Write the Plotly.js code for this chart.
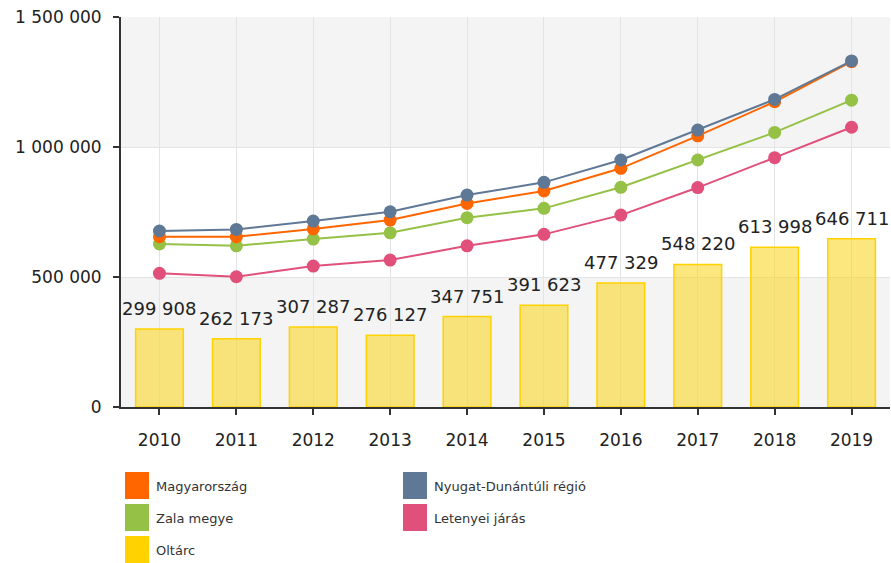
<!DOCTYPE html>
<html>
<head>
<meta charset="utf-8">
<script src="https://cdn.plot.ly/plotly-3.0.1.min.js"></script>
<style>html,body{margin:0;padding:0;background:#fff;}#chart{width:891px;height:563px;}</style>
</head>
<body>
<div id="chart"></div>
<script>
const years = [2010, 2011, 2012, 2013, 2014, 2015, 2016, 2017, 2018, 2019];
const oltarc = [299908, 262173, 307287, 276127, 347751, 391623, 477329, 548220, 613998, 646711];
const magyarorszag = [655000, 655000, 685000, 719000, 783000, 831000, 918000, 1043000, 1174000, 1328000];
const nyugatDunantuli = [677000, 683000, 715000, 751000, 815000, 864000, 950000, 1065000, 1183000, 1331000];
const zalaMegye = [627000, 620000, 646000, 670000, 728000, 764000, 845000, 950000, 1056000, 1180000];
const letenyeiJaras = [514000, 501000, 542000, 565000, 620000, 664000, 738000, 844000, 959000, 1076000];
const yTicks = [0, 500000, 1000000, 1500000];

const seriesNames = ["Magyarország", "Nyugat-Dunántúli régió", "Zala megye", "Letenyei járás", "Oltárc"];
const seriesColors = ["#ff6600", "#5f7896", "#95c146", "#e0507a", "#ffd200"];

const FONT = "DejaVu Sans, Verdana, sans-serif";
const fmt = v => String(v).replace(/\B(?=(\d{3})+(?!\d))/g, " ");

const lineSeries = [
  [letenyeiJaras, 3],
  [zalaMegye, 2],
  [magyarorszag, 0],
  [nyugatDunantuli, 1]
];

const traces = [{
  type: "bar",
  x: years,
  y: oltarc,
  width: 0.62,
  name: seriesNames[4],
  marker: {color: "rgba(250,214,40,0.6)", line: {color: seriesColors[4], width: 1.5}},
  hoverinfo: "x+y",
  showlegend: false
}];
lineSeries.forEach(([vals, idx]) => {
  traces.push({
    type: "scatter",
    mode: "lines+markers",
    x: years,
    y: vals,
    name: seriesNames[idx],
    line: {color: seriesColors[idx], width: 2},
    marker: {color: seriesColors[idx], size: 13},
    showlegend: false
  });
});

const shapes = [
  {type: "rect", xref: "paper", yref: "y", x0: 0, x1: 1, y0: 0, y1: 500000, fillcolor: "#f4f4f4", line: {width: 0}, layer: "below"},
  {type: "rect", xref: "paper", yref: "y", x0: 0, x1: 1, y0: 1000000, y1: 1500000, fillcolor: "#f4f4f4", line: {width: 0}, layer: "below"}
];

const annotations = years.map((yr, i) => ({
  x: yr, y: oltarc[i], xref: "x", yref: "y",
  text: fmt(oltarc[i]), showarrow: false,
  yanchor: "bottom", yshift: 8,
  font: {family: FONT, size: 18, color: "#222"}
}));

// legend built from names/colors
const legendPos = [
  {col: 0, row: 0}, {col: 1, row: 0}, {col: 0, row: 1}, {col: 1, row: 1}, {col: 0, row: 2}
];
const colX = [125, 403];
const rowY = [472, 504, 536];
legendPos.forEach((p, i) => {
  const x0 = colX[p.col], y0 = rowY[p.row];
  shapes.push({type: "rect", xref: "paper", yref: "paper",
    x0: (x0 - 121) / 769, x1: (x0 + 24 - 121) / 769,
    y0: (407 - y0) / 390, y1: (407 - y0 - 27) / 390,
    fillcolor: seriesColors[i], line: {width: 0}});
  annotations.push({xref: "paper", yref: "paper",
    x: (x0 + 29 - 121) / 769, y: (407 - y0 - 14) / 390,
    xanchor: "left", yanchor: "middle", showarrow: false,
    text: seriesNames[i], font: {family: FONT, size: 13, color: "#333"}});
});

const layout = {
  width: 891, height: 563,
  margin: {l: 121, r: 1, t: 17, b: 156},
  paper_bgcolor: "#fff", plot_bgcolor: "#fff",
  showlegend: false,
  font: {family: FONT, color: "#333"},
  xaxis: {
    range: [2009.5, 2019.5], tickvals: years, ticktext: years.map(String),
    showgrid: true, gridcolor: "#e4e4e4", gridwidth: 1,
    showline: true, linecolor: "#333", linewidth: 2,
    ticks: "outside", ticklen: 6, tickcolor: "#333", tickwidth: 2,
    ticklabelstandoff: 11,
    tickfont: {family: FONT, size: 17, color: "#222"},
    zeroline: false, fixedrange: true
  },
  yaxis: {
    range: [0, 1500000], tickvals: yTicks, ticktext: yTicks.map(fmt),
    showgrid: true, gridcolor: "#e4e4e4", gridwidth: 1,
    showline: true, linecolor: "#333", linewidth: 2,
    ticks: "outside", ticklen: 6, tickcolor: "#333", tickwidth: 2,
    ticklabelstandoff: 8,
    tickfont: {family: FONT, size: 17, color: "#222"},
    zeroline: false, fixedrange: true
  },
  shapes: shapes,
  annotations: annotations,
  bargap: 0.38
};

Plotly.newPlot("chart", traces, layout, {displayModeBar: false, staticPlot: true});
</script>
</body>
</html>
